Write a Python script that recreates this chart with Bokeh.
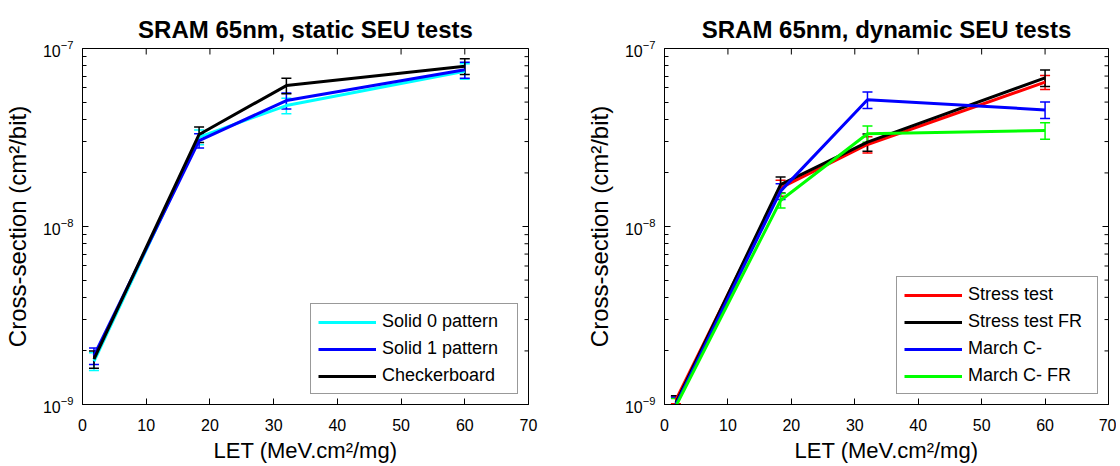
import math
from bokeh.plotting import figure
from bokeh.models import (Range1d, Whisker, TeeHead, ColumnDataSource, Legend,
                          LegendItem, FixedTicker, LogTickFormatter)
from bokeh.layouts import row
from bokeh.embed import file_html
from bokeh.resources import INLINE

# ---------------- data ----------------
let_values = [1.8, 18.3, 32.0, 60.0]
x_ticks = [0, 10, 20, 30, 40, 50, 60, 70]
y_major = [1e-9, 1e-8, 1e-7]
x_min, x_max = 0, 70
y_min, y_max = 1e-9, 1e-7

# static tests
solid0 = [1.75e-9, 3.18e-8, 4.78e-8, 7.46e-8]
solid0_err = [0.2e-9, 0.30e-8, 0.48e-8, 0.75e-8]
solid1 = [1.88e-9, 3.04e-8, 5.10e-8, 7.59e-8]
solid1_err = [0.2e-9, 0.28e-8, 0.53e-8, 0.78e-8]
checker = [1.80e-9, 3.29e-8, 6.19e-8, 7.95e-8]
checker_err = [0.2e-9, 0.33e-8, 0.62e-8, 0.80e-8]

# dynamic tests
stress = [1.06e-9, 1.65e-8, 2.89e-8, 6.47e-8]
stress_err = [0.05e-9, 0.17e-8, 0.30e-8, 0.58e-8]
stress_fr = [1.02e-9, 1.72e-8, 2.98e-8, 6.84e-8]
stress_fr_err = [0.1e-9, 0.18e-8, 0.33e-8, 0.73e-8]
march = [1.0e-9, 1.58e-8, 5.15e-8, 4.52e-8]
march_err = [0.1e-9, 0.16e-8, 0.55e-8, 0.48e-8]
march_fr = [0.98e-9, 1.40e-8, 3.32e-8, 3.46e-8]
march_fr_err = [0.1e-9, 0.13e-8, 0.35e-8, 0.37e-8]

static_series = [
    ("Solid 0 pattern", solid0, solid0_err, "#00FFFF"),
    ("Solid 1 pattern", solid1, solid1_err, "#0000FF"),
    ("Checkerboard", checker, checker_err, "#000000"),
]
dynamic_series = [
    ("Stress test", stress, stress_err, "#FF0000"),
    ("Stress test FR", stress_fr, stress_fr_err, "#000000"),
    ("March C-", march, march_err, "#0000FF"),
    ("March C- FR", march_fr, march_fr_err, "#00FF00"),
]

# minor tick positions of the log axis (2..9 x each decade)
y_minor = [k * 10.0 ** e for e in (-9, -8) for k in range(2, 10)]

FONT = "Liberation Sans"


def make_panel(title, series, frame_w, border_right, label_width):
    p = figure(title=title, y_axis_type="log",
               x_range=Range1d(x_min, x_max), y_range=Range1d(y_min, y_max),
               frame_width=frame_w, frame_height=356,
               min_border_left=82, min_border_right=border_right,
               min_border_top=48, min_border_bottom=62,
               output_backend="svg", toolbar_location=None,
               background_fill_color="white", border_fill_color="white")
    p.grid.visible = False
    p.outline_line_color = "black"
    p.outline_line_width = 1

    p.title.text_font = FONT
    p.title.text_font_size = "24px"
    p.title.text_font_style = "bold"
    p.title.text_color = "black"
    p.title.align = "center"
    p.title.standoff = 11

    xa = p.xaxis[0]
    xa.ticker = FixedTicker(ticks=x_ticks, minor_ticks=[])
    xa.axis_label = "LET (MeV.cm²/mg)"
    xa.axis_label_text_font = FONT
    xa.axis_label_text_font_size = "22px"
    xa.axis_label_text_font_style = "normal"
    xa.axis_label_text_color = "black"
    xa.axis_label_standoff = 4
    xa.major_label_text_font = FONT
    xa.major_label_text_font_size = "16px"
    xa.major_label_text_color = "black"
    xa.major_label_standoff = 14
    xa.major_tick_in = 6
    xa.major_tick_out = 0
    xa.axis_line_color = "black"
    xa.major_tick_line_color = "black"

    ya = p.yaxis[0]
    ya.ticker = FixedTicker(ticks=y_major, minor_ticks=y_minor)
    ya.formatter = LogTickFormatter()
    ya.axis_label = "Cross-section (cm²/bit)"
    ya.axis_label_text_font = FONT
    ya.axis_label_text_font_size = "24px"
    ya.axis_label_text_font_style = "normal"
    ya.axis_label_text_color = "black"
    ya.axis_label_standoff = 9
    ya.major_label_text_font = FONT
    ya.major_label_text_font_size = "16px"
    ya.major_label_text_color = "black"
    ya.major_label_standoff = 9
    ya.major_tick_in = 6
    ya.major_tick_out = 0
    ya.minor_tick_in = 4
    ya.minor_tick_out = 0
    ya.axis_line_color = "black"
    ya.major_tick_line_color = "black"
    ya.minor_tick_line_color = "black"

    # inward box ticks on the right and top edges (clipped to the frame)
    p.scatter(x=[x_max] * len(y_major), y=y_major, marker="dash", size=12,
              line_color="black", line_width=1)
    p.scatter(x=[x_max] * len(y_minor), y=y_minor, marker="dash", size=8,
              line_color="black", line_width=1)
    p.scatter(x=x_ticks, y=[y_max] * len(x_ticks), marker="dash", size=12,
              angle=math.pi / 2, line_color="black", line_width=1)

    items = []
    for name, vals, errs, color in series:
        src = ColumnDataSource(dict(
            x=let_values, y=vals,
            upper=[v + e for v, e in zip(vals, errs)],
            lower=[v - e for v, e in zip(vals, errs)]))
        w = Whisker(source=src, base="x", upper="upper", lower="lower",
                    line_color=color, line_width=1.5,
                    upper_head=TeeHead(size=10, line_color=color, line_width=1.5),
                    lower_head=TeeHead(size=10, line_color=color, line_width=1.5))
        p.add_layout(w)
        r = p.line("x", "y", source=src, line_color=color, line_width=3)
        items.append(LegendItem(label=name, renderers=[r]))

    leg = Legend(items=items, location="bottom_right",
                 label_text_font=FONT, label_text_font_size="18px",
                 label_text_color="black",
                 glyph_width=58, glyph_height=20, label_height=20,
                 label_width=label_width, label_standoff=6,
                 spacing=6, padding=7, margin=10,
                 border_line_color="#333333", border_line_width=1,
                 background_fill_color="white", background_fill_alpha=1.0)
    p.add_layout(leg)
    return p


p1 = make_panel("SRAM 65nm, static SEU tests", static_series, 446, 54, 128)
p2 = make_panel("SRAM 65nm, dynamic SEU tests", dynamic_series, 444, 8, 122)

layout = row(p1, p2)
open("out.html", "w").write(file_html(layout, INLINE))
